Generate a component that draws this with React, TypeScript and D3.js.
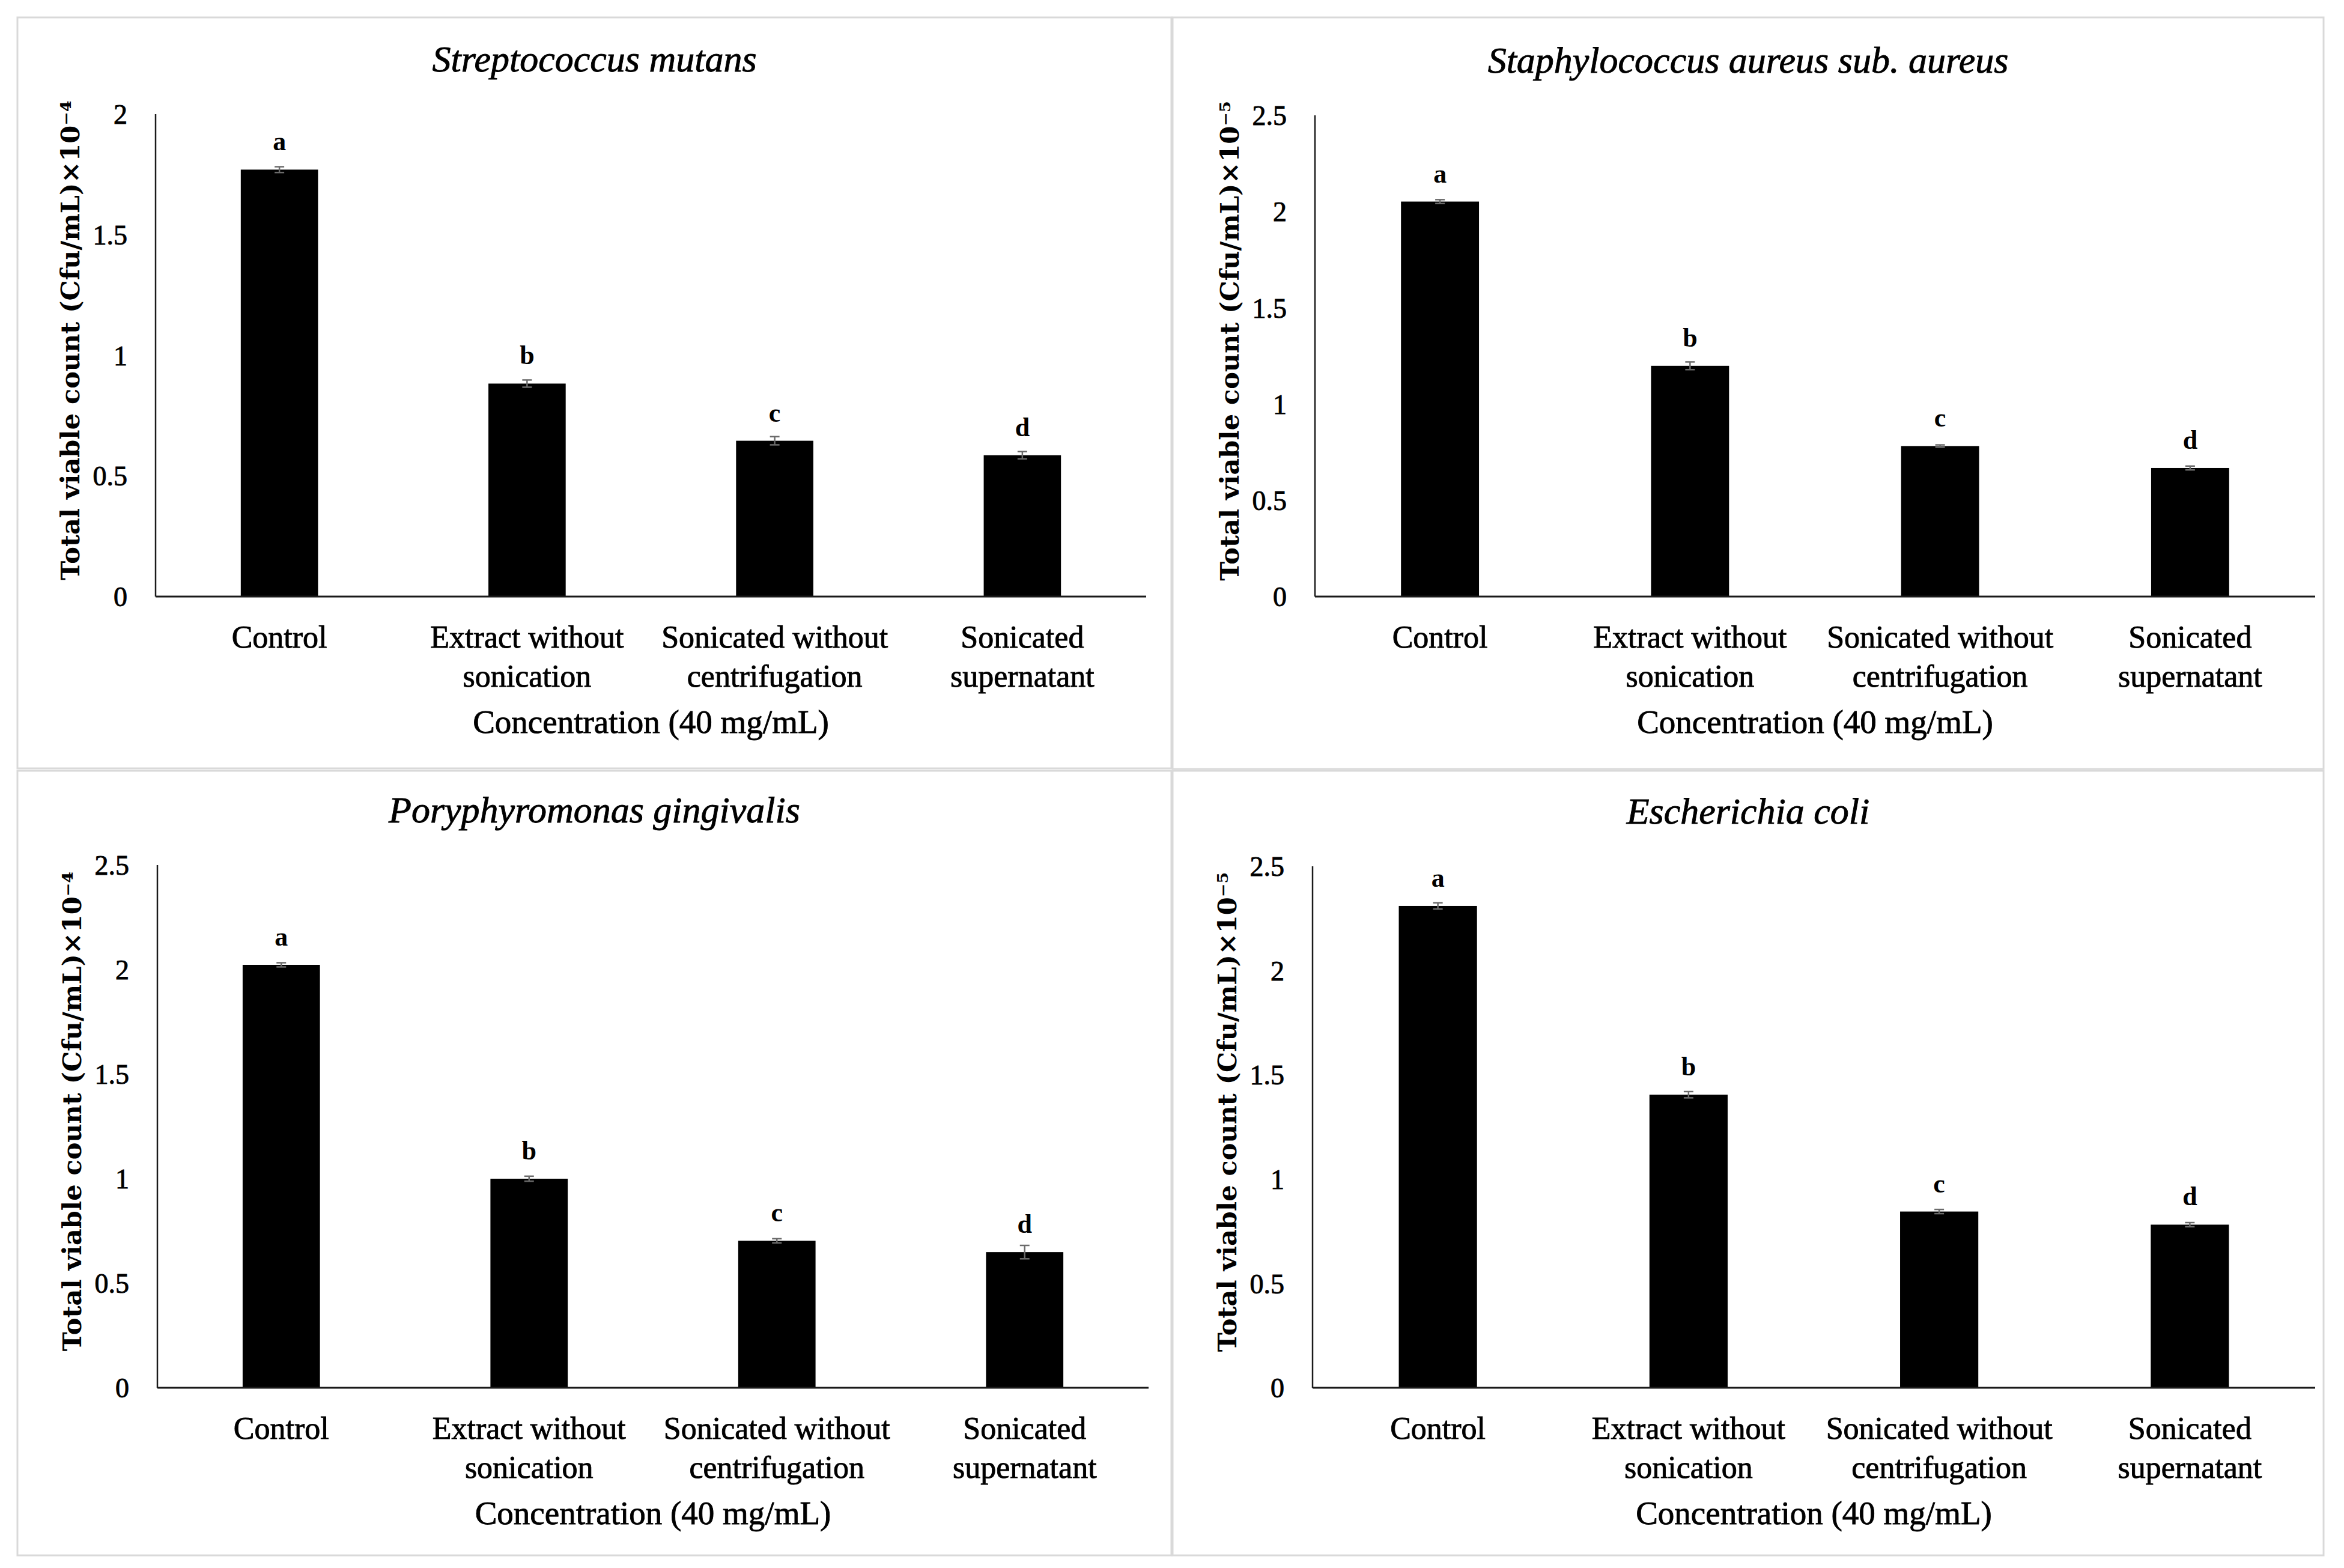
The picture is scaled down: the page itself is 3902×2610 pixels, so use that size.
import * as d3 from "d3";

const categoryLines = [
  ["Control"],
  ["Extract without", "sonication"],
  ["Sonicated without", "centrifugation"],
  ["Sonicated", "supernatant"],
];
const letters = ["a", "b", "c", "d"];

const mutansValues = [1.77, 0.883, 0.646, 0.586];
const mutansErrors = [0.012, 0.015, 0.017, 0.015];
const aureusValues = [2.052, 1.199, 0.782, 0.668];
const aureusErrors = [0.01, 0.02, 0.006, 0.01];
const gingivalisValues = [2.023, 1.0, 0.703, 0.649];
const gingivalisErrors = [0.01, 0.012, 0.01, 0.032];
const coliValues = [2.31, 1.405, 0.845, 0.782];
const coliErrors = [0.015, 0.015, 0.01, 0.01];

const ticksTo2 = [0, 0.5, 1, 1.5, 2];
const ticksTo25 = [0, 0.5, 1, 1.5, 2, 2.5];

const serif = "'Liberation Serif', 'Times New Roman', serif";
const wideSerif = "'DejaVu Serif', serif";
// a thin outline makes the regular face read a little heavier, like the original
const heavy = { stroke: "#000", strokeWidth: 0.9 };

type PanelProps = {
  box: [number, number, number, number];
  plot: { left: number; right: number; top: number; bottom: number };
  title: string;
  values: number[];
  errors: number[];
  ticks: number[];
  exponent: string;
};

function Panel({ box, plot, title, values, errors, ticks, exponent }: PanelProps) {
  const [bx0, by0, bx1, by1] = box;
  const x = d3
    .scaleBand<number>()
    .domain(d3.range(values.length))
    .range([plot.left, plot.right])
    .padding(0);
  const y = d3
    .scaleLinear()
    .domain([0, ticks[ticks.length - 1]])
    .range([plot.bottom, plot.top]);
  const barW = x.bandwidth() * 0.312;
  const cx = (i: number) => (x(i) as number) + x.bandwidth() / 2;
  const plotMid = (plot.left + plot.right) / 2;

  return (
    <g>
      <rect
        x={bx0}
        y={by0}
        width={bx1 - bx0}
        height={by1 - by0}
        fill="white"
        stroke="#d9d9d9"
        strokeWidth={3}
      />
      <text
        x={(bx0 + bx1) / 2}
        y={plot.top - 71}
        textAnchor="middle"
        fontFamily={serif}
        fontStyle="italic"
        fontSize={62}
        fill="#000"
        {...heavy}
      >
        {title}
      </text>
      {values.map((v, i) => (
        <rect
          key={"b" + i}
          x={cx(i) - barW / 2}
          y={y(v)}
          width={barW}
          height={plot.bottom - y(v)}
          fill="#000"
        />
      ))}
      {values.map((v, i) => (
        <g key={"e" + i} stroke="#6b6b6b" strokeWidth={2.5}>
          <line x1={cx(i)} x2={cx(i)} y1={y(v + errors[i])} y2={y(v - errors[i])} />
          <line x1={cx(i) - 8} x2={cx(i) + 8} y1={y(v + errors[i])} y2={y(v + errors[i])} />
          <line x1={cx(i) - 8} x2={cx(i) + 8} y1={y(v - errors[i])} y2={y(v - errors[i])} />
        </g>
      ))}
      {values.map((v, i) => (
        <text
          key={"l" + i}
          x={cx(i)}
          y={y(v) - 32}
          textAnchor="middle"
          fontFamily={serif}
          fontWeight="bold"
          fontSize={44}
        >
          {letters[i]}
        </text>
      ))}
      <line x1={plot.left} x2={plot.left} y1={plot.top} y2={plot.bottom} stroke="#1a1a1a" strokeWidth={2.5} />
      <line x1={plot.left} x2={plot.right} y1={plot.bottom} y2={plot.bottom} stroke="#1a1a1a" strokeWidth={3} />
      {ticks.map((t) => (
        <text
          key={"t" + t}
          x={plot.left - 47}
          y={y(t)}
          dy="0.35em"
          textAnchor="end"
          fontFamily={serif}
          fontSize={46}
          {...heavy}
        >
          {String(t)}
        </text>
      ))}
      {categoryLines.map((lines, i) => (
        <text
          key={"c" + i}
          x={cx(i)}
          textAnchor="middle"
          fontFamily={serif}
          fontSize={52}
          {...heavy}
        >
          {lines.map((ln, j) => (
            <tspan key={j} x={cx(i)} y={plot.bottom + 85 + j * 65}>
              {ln}
            </tspan>
          ))}
        </text>
      ))}
      <text
        x={plotMid}
        y={plot.bottom + 227}
        textAnchor="middle"
        fontFamily={serif}
        fontSize={55}
        {...heavy}
      >
        Concentration (40 mg/mL)
      </text>
      <text
        transform={`translate(${plot.left - 142},${(plot.top + plot.bottom) / 2 - 25}) rotate(-90)`}
        textAnchor="middle"
        dy="0.35em"
        fontFamily={wideSerif}
        fontWeight="bold"
        fontSize={43}
      >
        {"Total viable count (Cfu/mL)×10" + exponent}
      </text>
    </g>
  );
}

export default function App() {
  const W = 3902;
  const H = 2610;
  return (
    <svg
      width={W}
      height={H}
      viewBox={`0 0 ${W} ${H}`}
      style={{ position: "absolute", left: 0, top: 0, background: "#fff" }}
    >
      <rect x={0} y={0} width={W} height={H} fill="#fff" />
      <Panel
        box={[29, 29, 1950, 1279]}
        plot={{ left: 259, right: 1908, top: 190, bottom: 993 }}
        title="Streptococcus mutans"
        values={mutansValues}
        errors={mutansErrors}
        ticks={ticksTo2}
        exponent="⁻⁴"
      />
      <Panel
        box={[1952, 29, 3868, 1280]}
        plot={{ left: 2189, right: 3854, top: 192, bottom: 993 }}
        title="Staphylococcus aureus sub. aureus"
        values={aureusValues}
        errors={aureusErrors}
        ticks={ticksTo25}
        exponent="⁻⁵"
      />
      <Panel
        box={[29, 1283, 1950, 2589]}
        plot={{ left: 262, right: 1912, top: 1440, bottom: 2310 }}
        title="Poryphyromonas gingivalis"
        values={gingivalisValues}
        errors={gingivalisErrors}
        ticks={ticksTo25}
        exponent="⁻⁴"
      />
      <Panel
        box={[1952, 1283, 3868, 2589]}
        plot={{ left: 2185, right: 3854, top: 1442, bottom: 2310 }}
        title="Escherichia coli"
        values={coliValues}
        errors={coliErrors}
        ticks={ticksTo25}
        exponent="⁻⁵"
      />
    </svg>
  );
}
